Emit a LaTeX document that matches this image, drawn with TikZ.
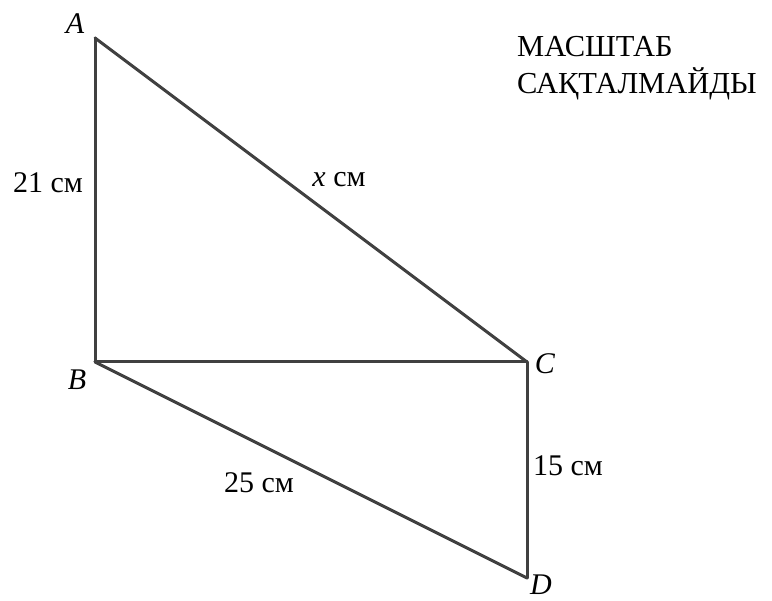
\documentclass[tikz,border=0pt]{standalone}
\usepackage{fontspec}
\setmainfont{Liberation Serif}
\usetikzlibrary{positioning}

\begin{document}
\begin{tikzpicture}[x=1pt, y=-1pt,
            side/.style={draw=black!75, line width=3pt, line cap=round, line join=round},
            vertex/.style={font=\fontsize{30}{36}\selectfont\itshape, inner sep=0pt},
            length/.style={font=\fontsize{30}{36}\selectfont, inner sep=0pt},
            note/.style={font=\fontsize{30.5}{37}\selectfont, align=left, inner sep=0pt}
        ]
            \useasboundingbox (0,0) rectangle (772,601);

            % triangle vertices
            \coordinate (A) at (95,38);
            \coordinate (B) at (95,362);
            \coordinate (C) at (527,362);
            \coordinate (D) at (527,578);

            \node[vertex] (labA) at (75,24) {A};
            \node[vertex] (labB) at (77,380) {B};
            \node[vertex] (labC) at (545,364) {C};
            \node[vertex] (labD) at (541,585) {D};

            \node[length] (ab) at (48,183) {21 см};
            \node[length] (ac) at (339,180) {\textit{x} см};
            \node[length] (bd) at (259,483) {25 см};
            \node[length] (cd) at (568,466) {15 см};

            \node[note, anchor=north west] (scale) at (517,36) {МАСШТАБ\\САҚТАЛМАЙДЫ};

            \draw[side] (A) -- (B);
            \draw[side] (A) -- (C);
            \draw[side] (B) -- (C);
            \draw[side] (B) -- (D);
            \draw[side] (C) -- (D);

        \end{tikzpicture}
\end{document}
